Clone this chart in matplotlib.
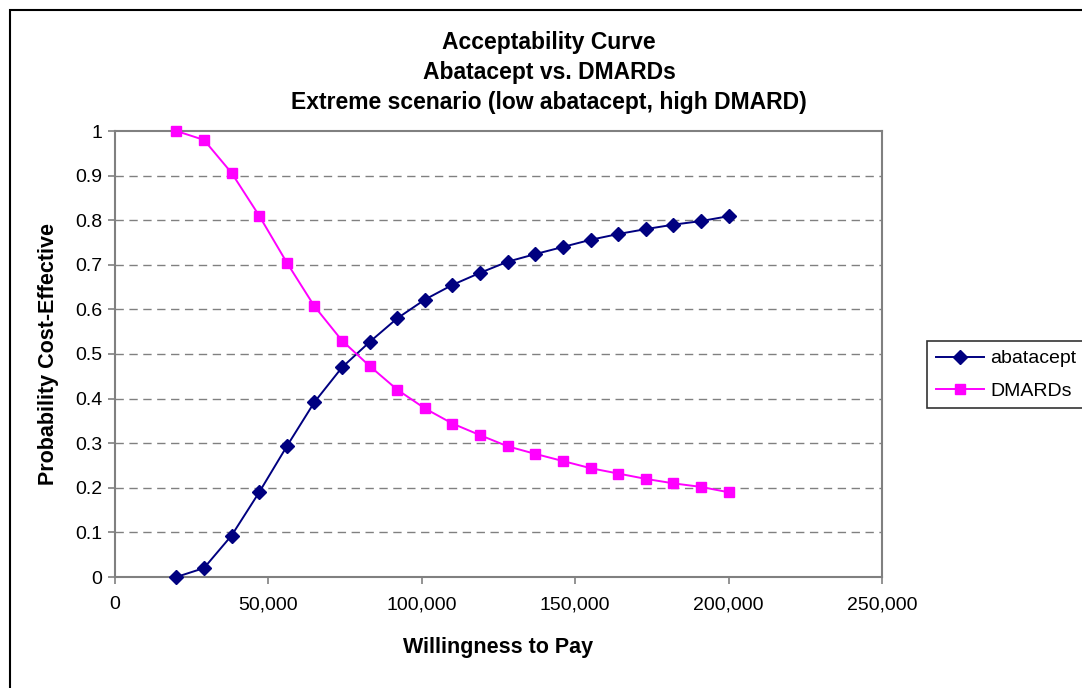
import matplotlib
matplotlib.use("Agg")
import matplotlib.pyplot as plt
from matplotlib.patches import Rectangle
from matplotlib.ticker import FuncFormatter, MultipleLocator

plt.rcParams['font.family'] = ['Liberation Sans', 'DejaVu Sans']

wtp = [20000, 29000, 38000, 47000, 56000, 65000, 74000, 83000, 92000, 101000,
       110000, 119000, 128000, 137000, 146000, 155000, 164000, 173000, 182000,
       191000, 200000]
abatacept = [0.0, 0.02, 0.093, 0.19, 0.293, 0.392, 0.47, 0.527, 0.58, 0.622,
             0.655, 0.682, 0.707, 0.724, 0.74, 0.756, 0.769, 0.78, 0.79,
             0.798, 0.809]
dmards = [1.0, 0.98, 0.906, 0.81, 0.705, 0.607, 0.53, 0.473, 0.42, 0.378,
          0.344, 0.318, 0.293, 0.276, 0.26, 0.244, 0.232, 0.22, 0.21,
          0.202, 0.19]
title_lines = ["Acceptability Curve", "Abatacept vs. DMARDs",
               "Extreme scenario (low abatacept, high DMARD)"]

W, H = 1082, 688
fig = plt.figure(figsize=(W / 100, H / 100), dpi=100)
ax = fig.add_axes([115 / W, 1 - 577 / H, (882 - 115) / W, (577 - 131) / H])

ax.plot(wtp, abatacept, color='#000080', marker='D', markersize=7.5,
        linewidth=1.4, label='abatacept', clip_on=False, zorder=3)
ax.plot(wtp, dmards, color='#FF00FF', marker='s', markersize=7.5,
        linewidth=1.4, label='DMARDs', clip_on=False, zorder=3)

ax.set_xlim(0, 250000)
ax.set_ylim(0, 1)
ax.xaxis.set_major_locator(MultipleLocator(50000))
ax.yaxis.set_major_locator(MultipleLocator(0.1))
ax.xaxis.set_major_formatter(FuncFormatter(lambda v, p: f"{int(v):,}"))
ax.yaxis.set_major_formatter(FuncFormatter(lambda v, p: f"{v:g}"))

for y in [i / 10 for i in range(1, 10)]:
    ax.axhline(y, color='#808080', linestyle=(0, (6, 4)), linewidth=1.0, zorder=1)

for s in ax.spines.values():
    s.set_color('#808080')
    s.set_linewidth(1.5)
ax.tick_params(axis='both', direction='out', color='#808080', length=5,
               width=1.2, labelsize=14, labelcolor='black')
ax.tick_params(axis='x', pad=9)
ax.tick_params(axis='y', pad=4)

ax.set_xlabel('Willingness to Pay', fontsize=15.5, fontweight='bold', labelpad=17)
ax.set_ylabel('Probability Cost-Effective', fontsize=15.5, fontweight='bold', labelpad=12)

for i, t in enumerate(title_lines):
    fig.text(549 / W, 1 - (42 + 30 * i) / H, t, ha='center', va='center',
             fontsize=16.5, fontweight='bold')

leg = fig.legend(loc='upper left', bbox_to_anchor=(927 / W, 1 - 341 / H),
                 fontsize=14, frameon=True, fancybox=False, borderpad=0.45,
                 handlelength=2.5, handletextpad=0.3, labelspacing=0.75,
                 borderaxespad=0)
leg.get_frame().set_edgecolor('black')
leg.get_frame().set_linewidth(1.2)

fig.patches.append(Rectangle((10 / W, -0.1), 1.2, 1 - 10 / H + 0.1,
                             transform=fig.transFigure, fill=False,
                             edgecolor='black', linewidth=1.5))

fig.savefig('out.png', dpi=100)
